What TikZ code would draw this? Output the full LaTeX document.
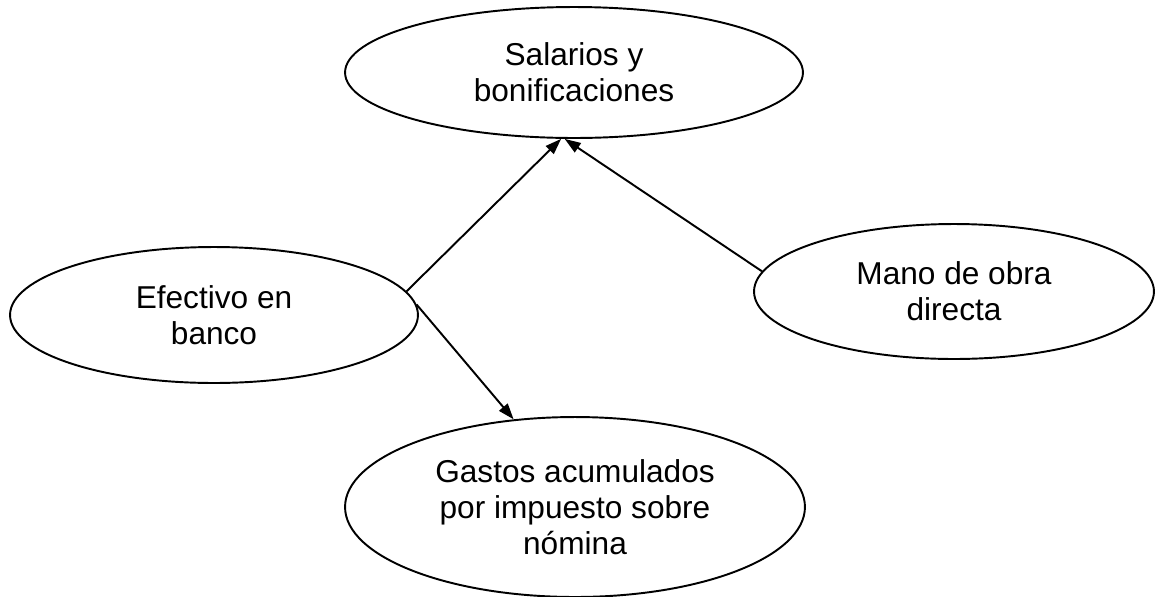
\documentclass[tikz,border=0pt]{standalone}
\usepackage{fontspec}
\setmainfont{Liberation Sans}
\usepackage{tikz}
\usetikzlibrary{shapes.geometric}
\usetikzlibrary{arrows.meta}
\tikzset{edge/.style = {->,> = {Triangle[length=0.32cm,width=0.22cm]}}}

\begin{document}
\begin{tikzpicture}[x=0.02cm,y=-0.02cm,line width=1.1pt,main node/.style={ellipse,draw,inner sep=0pt,align=center,font=\fontsize{18pt}{20.5pt}\selectfont}]
                    \useasboundingbox (0,0) rectangle (1156,596);
                    \node[main node,minimum width=9.16cm,minimum height=2.62cm] (salarios) at (574,72.5) {Salarios y\\bonificaciones};
                    \node[main node,minimum width=8.16cm,minimum height=2.72cm] (efectivo) at (214,315) {Efectivo en\\banco};
                    \node[main node,minimum width=8.0cm,minimum height=2.7cm] (mano) at (954,291.5) {Mano de obra\\directa};
                    \node[main node,minimum width=9.2cm,minimum height=3.6cm] (gastos) at (575,507) {Gastos acumulados\\por impuesto sobre\\nómina};

                    \path[edge] (efectivo.7) edge (salarios.259);
                    \path[edge] (mano.174) edge (salarios.262);
                    \path[edge] (efectivo.3) edge (gastos.125);
                \end{tikzpicture}
\end{document}
